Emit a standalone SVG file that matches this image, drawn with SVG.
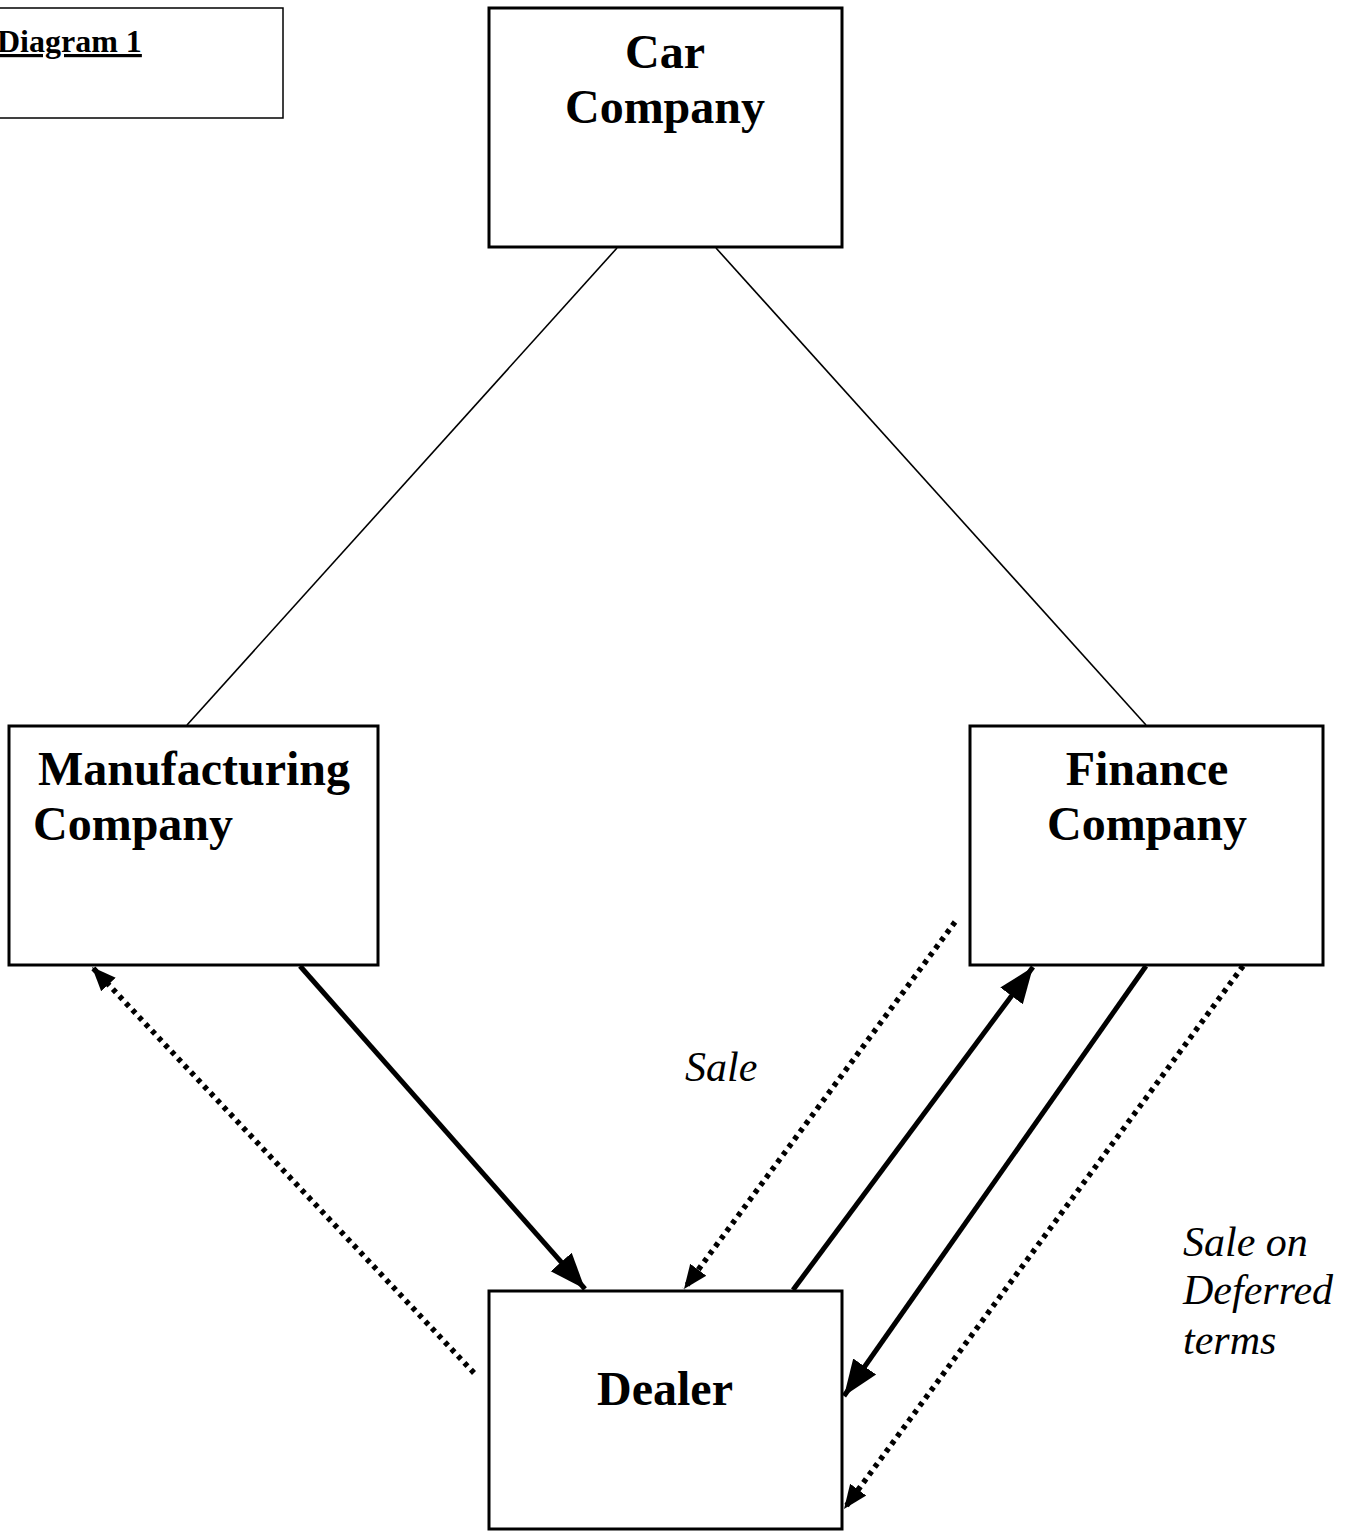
<svg xmlns="http://www.w3.org/2000/svg" width="1356" height="1531" viewBox="0 0 1356 1531">
<style>
.box{fill:#fff;stroke:#000;stroke-width:3}
.t{font-family:"Liberation Serif",serif;font-weight:bold;font-size:48px;fill:#000}
.lbl{font-family:"Liberation Serif",serif;font-style:italic;font-size:42px;fill:#000}
.thin{stroke:#000;stroke-width:1.6;fill:none}
.solid{stroke:#000;stroke-width:5;fill:none}
.dot{stroke:#000;stroke-width:5.5;fill:none;stroke-dasharray:4.5 5}
</style>
<defs>
<marker id="ah" markerUnits="userSpaceOnUse" markerWidth="40" markerHeight="40" viewBox="0 0 40 40" refX="36" refY="20" orient="auto">
<path d="M0,6 L36,20 L0,34 Z" fill="#000"/>
</marker>
<marker id="ahs" markerUnits="userSpaceOnUse" markerWidth="30" markerHeight="30" viewBox="0 0 30 30" refX="24" refY="15" orient="auto">
<path d="M0,5 L24,15 L0,25 Z" fill="#000"/>
</marker>
</defs>
<rect width="1356" height="1531" fill="#fff"/>
<g id="connectors">
<line class="thin" x1="617" y1="248" x2="187" y2="725"/>
<line class="thin" x1="716" y1="248" x2="1146" y2="725"/>
<line class="solid" x1="300" y1="966" x2="585" y2="1289" marker-end="url(#ah)"/>
<line class="dot" x1="474" y1="1373" x2="92" y2="967" marker-end="url(#ahs)"/>
<line class="dot" x1="955" y1="922" x2="684" y2="1289" marker-end="url(#ahs)"/>
<line class="solid" x1="793" y1="1290" x2="1033" y2="967" marker-end="url(#ah)"/>
<line class="solid" x1="1146" y1="966" x2="844" y2="1396" marker-end="url(#ah)"/>
<line class="dot" x1="1243" y1="966" x2="844" y2="1509" marker-end="url(#ahs)"/>
</g>
<g id="legend">
<rect x="-2" y="8" width="285" height="110" fill="#fff" stroke="#000" stroke-width="1.5"/>
<text x="-3" y="52" font-family="Liberation Serif, serif" font-weight="bold" font-size="32" text-decoration="underline">Diagram 1</text>
</g>
<g id="car">
<rect class="box" x="489" y="8" width="353" height="239"/>
<text class="t" x="665" y="68" text-anchor="middle">Car</text>
<text class="t" x="665" y="123" text-anchor="middle">Company</text>
</g>
<g id="manufacturing">
<rect class="box" x="9" y="726" width="369" height="239"/>
<text class="t" x="38" y="785">Manufacturing</text>
<text class="t" x="33" y="840">Company</text>
</g>
<g id="finance">
<rect class="box" x="970" y="726" width="353" height="239"/>
<text class="t" x="1147" y="785" text-anchor="middle">Finance</text>
<text class="t" x="1147" y="840" text-anchor="middle">Company</text>
</g>
<g id="dealer">
<rect class="box" x="489" y="1291" width="353" height="238"/>
<text class="t" x="665" y="1405" text-anchor="middle">Dealer</text>
</g>
<g id="labels">
<text class="lbl" x="685" y="1081">Sale</text>
<text class="lbl" x="1183" y="1256">Sale on</text>
<text class="lbl" x="1183" y="1304">Deferred</text>
<text class="lbl" x="1183" y="1354">terms</text>
</g>
</svg>
